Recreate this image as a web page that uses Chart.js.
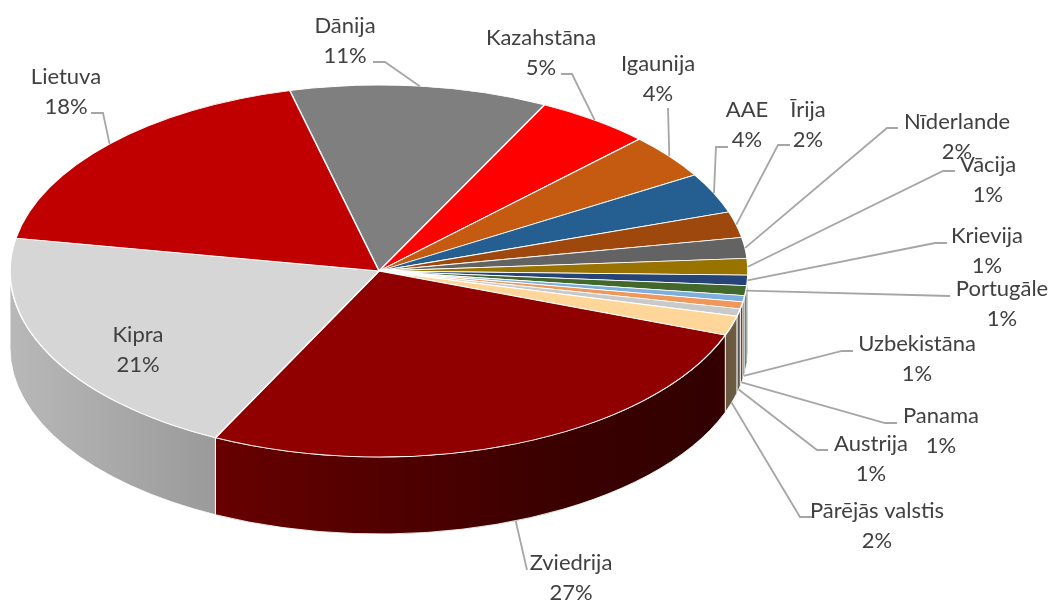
<!DOCTYPE html>
<html>
<head>
<meta charset="utf-8">
<title>Valstis</title>
<script src="https://cdn.jsdelivr.net/npm/chart.js@4"></script>
<style>
  html, body { margin: 0; padding: 0; background: #fff; }
  canvas { display: block; }
</style>
</head>
<body>
<canvas id="pie_chart" width="1052" height="601"></canvas>
<script>
const countries = [
  "Dānija", "Kazahstāna", "Igaunija", "AAE", "Īrija", "Nīderlande", "Vācija", "Krievija",
  "Portugāle", "Uzbekistāna", "Panama", "Austrija", "Pārējās valstis", "Zviedrija", "Kipra", "Lietuva",
];
const shares = [11.3, 5.05, 3.9, 3.5, 2.25, 1.8, 1.45, 0.9, 0.85, 0.55, 0.6, 0.65, 1.7, 26.7, 20.52, 18.28];
const sliceColors = [
  "#7f7f7f", "#ff0000", "#c55a11", "#255e91", "#9e480e", "#636363", "#997300", "#264478",
  "#43682b", "#7cafdd", "#f1975a", "#c9c9c9", "#ffd699", "#900000", "#d6d6d6", "#c00000",
];

// where each label sits: text centre, first line y, elbow points of the leader, leader start on the wall or not
const labelLayout = [
  { x: 345, y: 26, line: [[385, 62], [373, 62]] },
  { x: 541, y: 38, line: [[572, 74], [561, 74]] },
  { x: 658, y: 64, line: [[668, 108]] },
  { x: 747, y: 110, line: [[716, 147], [728, 147]] },
  { x: 808, y: 110, line: [[778, 145], [790, 145]] },
  { x: 957, y: 122, line: [[887, 128], [898, 128]] },
  { x: 988, y: 165, line: [[943, 171], [955, 171]] },
  { x: 987, y: 236, line: [[935, 243], [947, 243]] },
  { x: 1002, y: 289, line: [[950, 296]] },
  { x: 917, y: 344, wall: true, line: [[842, 351], [853, 351]] },
  { x: 941, y: 416, wall: true, line: [[885, 423], [897, 423]] },
  { x: 871, y: 444, wall: true, line: [[817, 450], [828, 450]] },
  { x: 877, y: 511, wall: true, line: [[800, 517], [812, 517]] },
  { x: 571, y: 563, wall: true, line: [[527, 570]] },
  { x: 138, y: 335 },
  { x: 66, y: 77, line: [[103, 113], [91, 113]] },
];

const tilt = 186 / 369;
const depth = 77;
const lineHeight = 29.5;

// side wall gets darker to the right, same stops for all slices
const wallStops = [[10, 0.86], [216, 0.72], [400, 0.55], [540, 0.42], [715, 0.35], [730, 0.42], [748, 0.45]];

const wallGradient = (ctx, color) => {
  const r = parseInt(color.slice(1, 3), 16);
  const g = parseInt(color.slice(3, 5), 16);
  const b = parseInt(color.slice(5, 7), 16);
  const gradient = ctx.createLinearGradient(10, 0, 748, 0);
  wallStops.forEach(([x, k]) => {
    gradient.addColorStop((x - 10) / 738, `rgb(${r * k}, ${g * k}, ${b * k})`);
  });
  return gradient;
};

const normAngle = (a) => {
  const full = Math.PI * 2;
  return ((a % full) + full) % full;
};

const tiltedPie = {
  id: "tiltedPie",
  beforeDatasetsDraw(chart) {
    const ctx = chart.ctx;
    const arcs = chart.getDatasetMeta(0).data;
    arcs.forEach((arc, i) => {
      const { x, y, outerRadius: rad } = arc;
      const from = normAngle(arc.startAngle);
      const to = from + (arc.endAngle - arc.startAngle);
      // only the front half of the disc shows a wall
      const a = Math.max(from, 0);
      const b = Math.min(to, Math.PI);
      if (a >= b) return;
      ctx.save();
      ctx.beginPath();
      ctx.ellipse(x, y, rad, rad * tilt, 0, a, b);
      ctx.ellipse(x, y + depth, rad, rad * tilt, 0, b, a, true);
      ctx.closePath();
      ctx.fillStyle = wallGradient(ctx, sliceColors[i]);
      ctx.fill();
      ctx.strokeStyle = "rgba(255,255,255,0.85)";
      ctx.lineWidth = 1;
      ctx.stroke();
      ctx.restore();
    });
    const { x, y } = arcs[0];
    ctx.save();
    ctx.translate(x, y);
    ctx.scale(1, tilt);
    ctx.translate(-x, -y);
  },
  afterDatasetsDraw(chart) {
    chart.ctx.restore();
  },
  afterDraw(chart) {
    const ctx = chart.ctx;
    const arcs = chart.getDatasetMeta(0).data;
    ctx.save();
    arcs.forEach((arc, i) => {
      const spot = labelLayout[i];
      if (spot.line) {
        const mid = (arc.startAngle + arc.endAngle) / 2;
        const sx = arc.x + arc.outerRadius * Math.cos(mid);
        const sy = arc.y + arc.outerRadius * tilt * Math.sin(mid) + (spot.wall ? depth : 0);
        ctx.beginPath();
        ctx.moveTo(sx, sy);
        spot.line.forEach(([px, py]) => ctx.lineTo(px, py));
        ctx.strokeStyle = "#a6a6a6";
        ctx.lineWidth = 1.8;
        ctx.stroke();
      }
    });
    ctx.font = '22px Lato, "Open Sans", sans-serif';
    ctx.fillStyle = "#404040";
    ctx.textAlign = "center";
    ctx.textBaseline = "middle";
    countries.forEach((name, i) => {
      const spot = labelLayout[i];
      ctx.fillText(name, spot.x, spot.y);
      ctx.fillText(Math.round(shares[i]) + "%", spot.x, spot.y + lineHeight);
    });
    ctx.restore();
  },
};

new Chart(document.getElementById("pie_chart").getContext("2d"), {
  type: "pie",
  data: {
    labels: countries,
    datasets: [
      {
        data: shares,
        backgroundColor: sliceColors,
        borderColor: "#ffffff",
        borderWidth: 1.6,
        clip: false,
      },
    ],
  },
  options: {
    responsive: false,
    animation: false,
    radius: 369,
    rotation: -14,
    layout: {
      padding: { right: 294, bottom: 59 },
    },
    plugins: {
      legend: { display: false },
      tooltip: { enabled: false },
    },
  },
  plugins: [tiltedPie],
});
</script>
</body>
</html>
